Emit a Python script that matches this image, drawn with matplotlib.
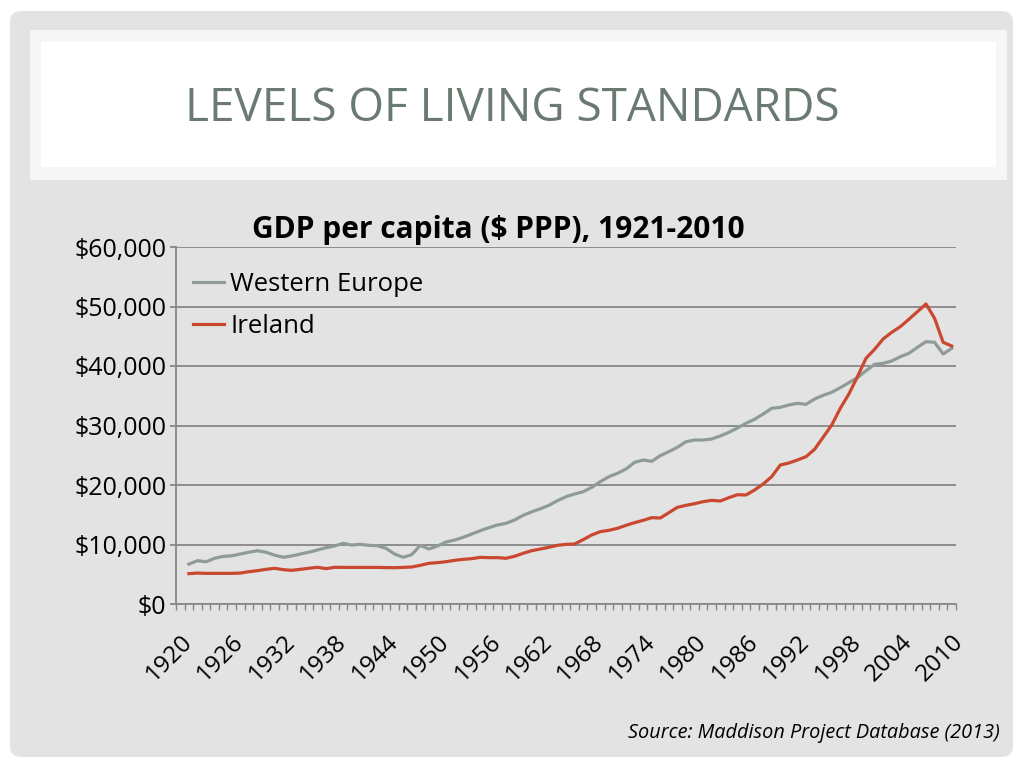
import matplotlib
matplotlib.use("Agg")
import matplotlib.pyplot as plt
from matplotlib.patches import FancyBboxPatch, Rectangle
from matplotlib.ticker import FuncFormatter

# annual data, 1921-2010 (category 1920 is empty)
years = list(range(1921, 2011))

western_europe = [
    6700, 7280, 7100, 7680, 8000, 8100, 8400, 8700, 8950, 8700,      # 1921-1930
    8200, 7850, 8070, 8400, 8700, 9080, 9460, 9750, 10200, 9900,     # 1931-1940
    10030, 9860, 9800, 9360, 8400, 7850, 8290, 9860, 9240, 9750,     # 1941-1950
    10420, 10750, 11200, 11760, 12320, 12830, 13280, 13560, 14120, 14900,  # 1951-1960
    15500, 16000, 16580, 17360, 18030, 18490, 18870, 19600, 20560, 21400,  # 1961-1970
    21960, 22690, 23810, 24200, 23980, 24930, 25600, 26340, 27280, 27560,  # 1971-1980
    27560, 27730, 28240, 28850, 29580, 30370, 31040, 31930, 32890, 33050,  # 1981-1990
    33450, 33730, 33560, 34450, 35070, 35580, 36360, 37200, 38040, 39210,  # 1991-2000
    40280, 40450, 40840, 41560, 42130, 43140, 44090, 43980, 42020, 42970,  # 2001-2010
]

ireland = [
    5100, 5200, 5150, 5150, 5150, 5150, 5200, 5430, 5600, 5830,      # 1921-1930
    6000, 5770, 5660, 5830, 6000, 6170, 5940, 6170, 6150, 6150,      # 1931-1940
    6150, 6150, 6150, 6120, 6100, 6150, 6220, 6500, 6840, 6950,      # 1941-1950
    7110, 7340, 7510, 7620, 7840, 7790, 7790, 7680, 8020, 8520,      # 1951-1960
    8960, 9240, 9530, 9860, 10030, 10080, 10810, 11600, 12160, 12380,  # 1961-1970
    12720, 13220, 13670, 14060, 14510, 14450, 15350, 16250, 16580, 16860,  # 1971-1980
    17200, 17420, 17310, 17870, 18370, 18320, 19160, 20170, 21400, 23360,  # 1981-1990
    23700, 24200, 24760, 26000, 28020, 30080, 32890, 35290, 38200, 41290,  # 1991-2000
    42800, 44540, 45660, 46610, 47850, 49130, 50420, 48020, 43980, 43360,  # 2001-2010
]

tick_years = list(range(1920, 2011, 6))

plt.rcParams['font.family'] = ['Open Sans', 'DejaVu Sans']

fig = plt.figure(figsize=(10.24, 7.68), dpi=100)
fig.patch.set_facecolor('white')

# slide background (pixel coords -> figure fractions)
W, H = 1024, 768
def fx(x): return x / W
def fy(y): return 1 - y / H

panel = FancyBboxPatch((fx(10), fy(757)), fx(1013) - fx(10), fy(11) - fy(757),
                       boxstyle="round,pad=0,rounding_size=0.012",
                       transform=fig.transFigure, facecolor='#e3e3e3',
                       edgecolor='none', zorder=0)
fig.patches.append(panel)
fig.patches.append(Rectangle((fx(30), fy(180)), fx(1007) - fx(30), fy(30) - fy(180),
                             transform=fig.transFigure, facecolor='#f6f6f6',
                             edgecolor='none', zorder=1))
fig.patches.append(Rectangle((fx(41), fy(167)), fx(996) - fx(41), fy(42) - fy(167),
                             transform=fig.transFigure, facecolor='#ffffff',
                             edgecolor='none', zorder=2))

fig.text(0.5, fy(109), "LEVELS OF LIVING STANDARDS",
         fontsize=33, color='#6b7a71', ha='center', va='center', zorder=3)

ax = fig.add_axes([fx(176), fy(604), fx(956) - fx(176), fy(247) - fy(604)])
ax.set_zorder(5)
ax.set_facecolor('none')

grey_line = '#8e9c95'
red_line = '#c9482f'
ax.plot(years, western_europe, color=grey_line, lw=2.3, label='Western Europe',
        solid_joinstyle='round', zorder=3)
ax.plot(years, ireland, color=red_line, lw=2.3, label='Ireland',
        solid_joinstyle='round', zorder=4)

ax.set_xlim(1919.5, 2010.5)
ax.set_ylim(0, 60000)
ax.set_yticks(range(0, 60001, 10000))
ax.yaxis.set_major_formatter(FuncFormatter(lambda v, p: "${:,.0f}".format(v)))
ax.grid(axis='y', color='#878787', lw=1.3, zorder=1)
ax.set_axisbelow(True)

ax.set_xticks(tick_years)
ax.set_xticklabels([str(y) for y in tick_years], rotation=45, ha='right',
                   rotation_mode='anchor', fontsize=17.5)
ax.tick_params(axis='x', length=0, pad=19)
ax.set_xticks([1919.5 + k for k in range(92)], minor=True)
ax.tick_params(axis='x', which='minor', length=4, color='#878787', width=1)
ax.tick_params(axis='y', length=4, color='#878787', width=1.3, labelsize=18, pad=3)

for s in ['top', 'right']:
    ax.spines[s].set_visible(False)
ax.spines['left'].set_color('#878787')
ax.spines['left'].set_linewidth(1.3)
ax.spines['bottom'].set_color('#878787')
ax.spines['bottom'].set_linewidth(1.3)

ax.legend(loc='upper left', frameon=False, fontsize=18.5, handlelength=1.2,
          handletextpad=0.25, labelspacing=0.65, borderpad=0, borderaxespad=0,
          bbox_to_anchor=(fx(193), fy(272)), bbox_transform=fig.transFigure)

fig.text(fx(498), fy(230), "GDP per capita ($ PPP), 1921-2010", fontsize=21.5,
         fontweight='bold', ha='center', va='center', zorder=6)

fig.text(fx(1000), fy(733), "Source: Maddison Project Database (2013)",
         fontsize=14.3, style='italic', ha='right', va='center', zorder=6)

fig.savefig('out.png', dpi=100, facecolor=fig.get_facecolor())
